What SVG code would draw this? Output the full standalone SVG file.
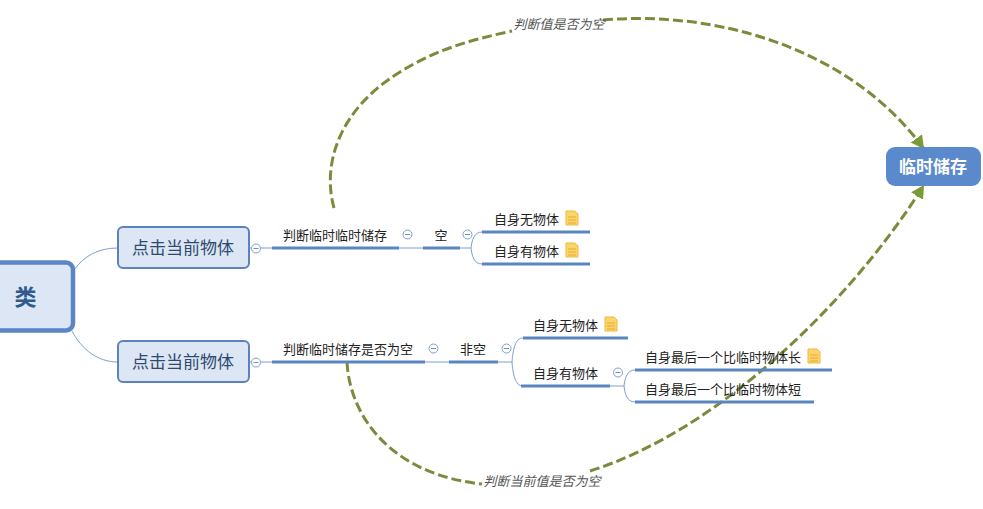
<svg xmlns="http://www.w3.org/2000/svg" width="983" height="509" viewBox="0 0 983 509">
<style>
text{font-family:"Noto Sans CJK SC","Liberation Sans",sans-serif;fill:#222;font-size:13px;text-anchor:middle}
.sub{fill:#dce6f4;stroke:#5b82bd;stroke-width:2}
.sub-t{font-size:17px;fill:#2f4a6e}
.bar{stroke:#5a86c0;stroke-width:3;fill:none}
.thin{stroke:#7f9fcb;stroke-width:1;fill:none}
.toggle{fill:#fff;stroke:#7f9fcb;stroke-width:1}
.minus{stroke:#6f90bf;stroke-width:1}
.rel{fill:none;stroke:#7a8c3c;stroke-width:3;stroke-dasharray:10 4}
.lab{font-size:13px;font-style:italic;fill:#555}
.note{fill:#fbd46d;stroke:#f0b93c;stroke-width:1}
.note-l{stroke:#e8a92c;stroke-width:1}
</style>
<defs>
<marker id="arr" markerUnits="userSpaceOnUse" markerWidth="16" markerHeight="16" refX="13" refY="7" orient="auto">
<path d="M0,0L13,7L0,14z" fill="#7a9a35"/>
</marker>
<g id="t"><circle r="4.5" class="toggle"/><path d="M-2.5,0H2.5" class="minus"/></g>
<g id="n"><path d="M-6,-7H3L6,-4V7H-6z" class="note"/><path d="M-4,-1H4M-4,2H4M-4,5H4" class="note-l"/></g>
</defs>
<g id="connectors">
<path class="thin" d="M74,270C84,256 98,248 118,248"/>
<path class="thin" d="M72,331C82,350 98,362 118,362"/>
<path class="thin" d="M249,248H272M249,362H272M399,248H423M425,362H449"/>
<path class="thin" d="M460,248H471"/>
<path class="thin" d="M482,232C474,232 472,240 471,248C472,256 474,264 482,264"/>
<path class="thin" d="M498,362H512"/>
<path class="thin" d="M523,338C515,338 513,350 512,362C513,374 515,386 523,386"/>
<path class="thin" d="M610,386H624"/>
<path class="thin" d="M635,370C627,370 625,378 624,386C625,394 627,402 635,402"/>
<path class="rel" d="M334,208C322,165 338,110 400,72C435,50 470,40 512,31"/>
<path class="rel" d="M603,20C720,10 852,50 924,149" marker-end="url(#arr)"/>
<path class="rel" d="M347,362C350,420 395,475 482,484"/>
<path class="rel" d="M590,471C720,430 852,300 924,185" marker-end="url(#arr)"/>
</g>
<g id="n-root"><rect x="-20" y="262.500" width="93" height="68" rx="7" fill="#dce6f4" stroke="#5a86c8" stroke-width="4.500"/><text x="25.500" y="305" style="font-size:22px;font-weight:700;fill:#2f5a8c">类</text></g>
<g id="n-a"><rect class="sub" x="118" y="227" width="131" height="41" rx="5"/><text class="sub-t" x="183" y="254">点击当前物体</text><use href="#t" x="256" y="248.500"/></g>
<g id="n-b"><rect class="sub" x="118" y="341" width="131" height="41" rx="5"/><text class="sub-t" x="183" y="368">点击当前物体</text><use href="#t" x="256" y="362.500"/></g>
<g id="n-a1"><text x="335" y="239.500">判断临时临时储存</text><path class="bar" d="M272,248H399"/><use href="#t" x="407.500" y="234.500"/></g>
<g id="n-a2"><text x="441" y="239.500">空</text><path class="bar" d="M423,248H460"/><use href="#t" x="467.500" y="234.500"/></g>
<g id="n-a3"><text x="526.500" y="223.500">自身无物体</text><path class="bar" d="M482,232H590"/><use href="#n" x="572" y="218"/></g>
<g id="n-a4"><text x="526.500" y="255.500">自身有物体</text><path class="bar" d="M482,264H590"/><use href="#n" x="572" y="250"/></g>
<g id="n-b1"><text x="348" y="353.500">判断临时储存是否为空</text><path class="bar" d="M272,362H425"/><use href="#t" x="433.500" y="348.500"/></g>
<g id="n-b2"><text x="473" y="353.500">非空</text><path class="bar" d="M449,362H498"/><use href="#t" x="506.500" y="348.500"/></g>
<g id="n-b3"><text x="565.500" y="329.500">自身无物体</text><path class="bar" d="M523,338H628"/><use href="#n" x="611" y="324"/></g>
<g id="n-b4"><text x="565.500" y="377.500">自身有物体</text><path class="bar" d="M521,386H610"/><use href="#t" x="618" y="372.500"/></g>
<g id="n-b5"><text x="723" y="361.500">自身最后一个比临时物体长</text><path class="bar" d="M635,370H832"/><use href="#n" x="814" y="356"/></g>
<g id="n-b6"><text x="723" y="393.500">自身最后一个比临时物体短</text><path class="bar" d="M635,402H814"/></g>
<g id="n-temp"><rect x="886" y="147" width="95" height="39" rx="9" fill="#5a8acb"/><text x="933" y="173" style="font-size:17px;font-weight:700;fill:#fff">临时储存</text></g>
<text class="lab" x="559" y="28.500">判断值是否为空</text>
<text class="lab" x="542" y="486">判断当前值是否为空</text>
</svg>
